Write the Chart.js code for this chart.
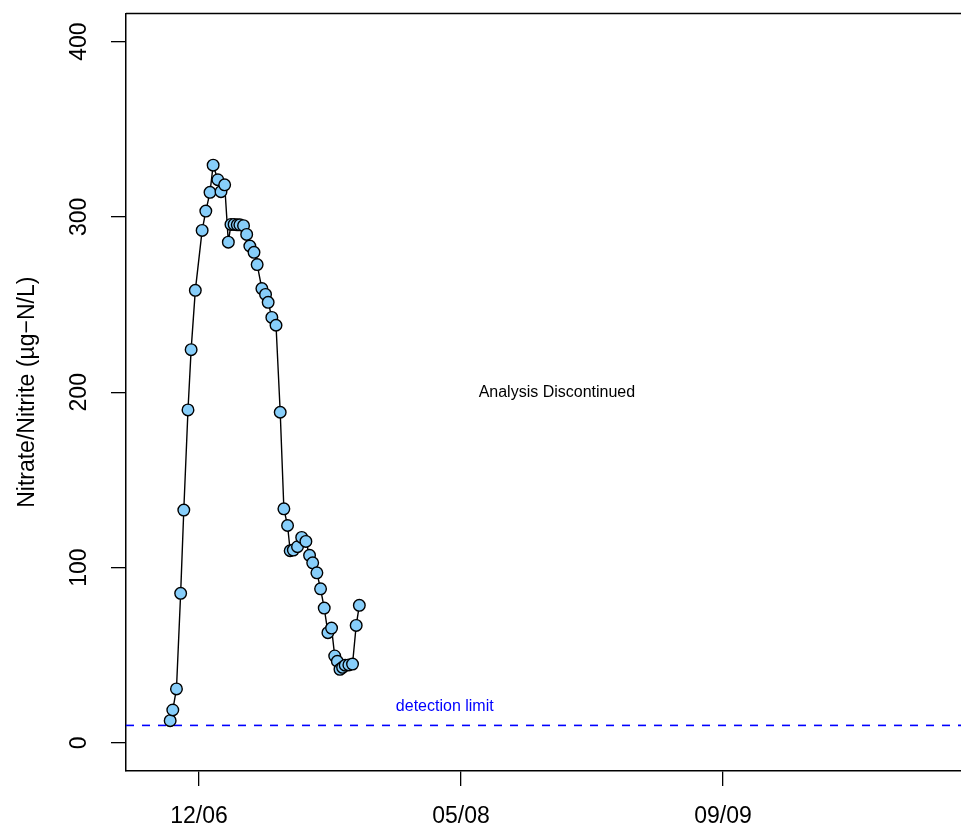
<!DOCTYPE html>
<html>
<head>
<meta charset="utf-8">
<script src="https://cdn.jsdelivr.net/npm/chart.js@4.4.1/dist/chart.umd.min.js"></script>
<style>
  html, body { margin: 0; padding: 0; background: #ffffff; }
  #wrap { width: 961px; height: 829px; }
</style>
</head>
<body>
<div id="wrap"><canvas id="c" width="961" height="829"></canvas></div>
<script>
// Sampling day, counted from the 12/06 tick (axis ticks every 500 days)
const sampleDay = [-55, -50, -43, -35, -29, -21, -15, -7, 6, 13, 21, 27, 36, 42, 49, 56,
  61, 67, 73, 78, 85, 91, 97, 105, 111, 120, 127, 132, 139, 147, 155, 162, 169, 174,
  180, 188, 196, 204, 211, 217, 225, 232, 239, 246, 253, 259, 264, 269, 274, 279,
  286, 293, 300, 306];

// Nitrate/Nitrite concentration, µg-N/L
const nitrate = [12.7, 18.8, 30.8, 85.3, 132.8, 189.9, 224.3, 258.1, 292.3, 303.3, 314,
  329.5, 321.2, 314.4, 318.3, 285.6, 295.7, 295.7, 295.5, 295.5, 295, 290, 283.4,
  279.8, 272.8, 259.1, 255.8, 251.3, 242.7, 238.2, 188.6, 133.5, 124, 109.6, 110,
  111.9, 117.2, 114.9, 107, 102.7, 97, 87.9, 76.9, 62.9, 65.5, 49.6, 46.6, 42, 43.1,
  44.3, 44.5, 45, 67, 78.5];

const xTickDays = [0, 500, 1000];
const xTickLabels = ['12/06', '05/08', '09/09'];
const yTickValues = [0, 100, 200, 300, 400];
const yTickLabels = ['0', '100', '200', '300', '400'];

const detectionLimit = 10;
const xRange = [-139.3, 1454.2];
const yRange = [-16, 416];

const noteText = 'Analysis Discontinued';
const notePos = [683, 200];
const limitText = 'detection limit';
const limitTextPos = [469, 21];

const FONT = '"Liberation Sans", Arial, Helvetica, sans-serif';

const overlay = {
  id: 'overlay',
  afterDraw(chart) {
    const ctx = chart.ctx;
    const area = chart.chartArea;
    const xs = chart.scales.x, ys = chart.scales.y;
    ctx.save();
    // top frame line (the frame runs past the right edge)
    ctx.strokeStyle = '#000';
    ctx.lineWidth = 1.5;
    ctx.beginPath();
    ctx.moveTo(area.left, area.top);
    ctx.lineTo(area.right + 2, area.top);
    ctx.stroke();

    // y tick labels, written parallel to the axis
    ctx.fillStyle = '#000';
    ctx.font = '23px ' + FONT;
    ctx.textAlign = 'center';
    ctx.textBaseline = 'middle';
    yTickValues.forEach((v, i) => {
      const py = ys.getPixelForValue(v);
      ctx.save();
      ctx.translate(area.left - 46, py);
      ctx.rotate(-Math.PI / 2);
      ctx.fillText(yTickLabels[i], 0, 0);
      ctx.restore();
    });

    // annotations
    ctx.font = '16px ' + FONT;
    ctx.fillStyle = '#000';
    ctx.fillText(noteText, xs.getPixelForValue(notePos[0]), ys.getPixelForValue(notePos[1]));
    ctx.fillStyle = '#0000ff';
    ctx.fillText(limitText, xs.getPixelForValue(limitTextPos[0]), ys.getPixelForValue(limitTextPos[1]));
    ctx.restore();
  }
};

new Chart(document.getElementById('c'), {
  type: 'line',
  data: {
    datasets: [
      {
        label: 'detection limit',
        data: [{ x: xRange[0], y: detectionLimit }, { x: xRange[1], y: detectionLimit }],
        borderColor: '#0000ff',
        borderWidth: 1.6,
        borderDash: [8, 8],
        pointRadius: 0,
        fill: false,
        order: 2
      },
      {
        label: 'Nitrate/Nitrite',
        data: sampleDay.map((d, i) => ({ x: d, y: nitrate[i] })),
        borderColor: '#000000',
        borderWidth: 1.4,
        pointRadius: 5.8,
        pointBackgroundColor: '#87CEFA',
        pointBorderColor: '#000000',
        pointBorderWidth: 1.4,
        tension: 0,
        fill: false,
        order: 1
      }
    ]
  },
  options: {
    responsive: false,
    animation: false,
    events: [],
    layout: { autoPadding: false, padding: { top: 13.5, left: 0, right: 0, bottom: 0 } },
    plugins: { legend: { display: false }, tooltip: { enabled: false } },
    scales: {
      x: {
        type: 'linear',
        min: xRange[0],
        max: xRange[1],
        afterBuildTicks: s => { s.ticks = xTickDays.map(v => ({ value: v })); },
        afterFit: s => { s.height = 58; },
        grid: { drawOnChartArea: false, drawTicks: true, tickLength: 15, color: '#000', lineWidth: 1.3 },
        border: { display: true, color: '#000', width: 1.5 },
        ticks: {
          autoSkip: false,
          maxRotation: 0,
          minRotation: 0,
          padding: 17,
          color: '#000',
          font: { family: FONT, size: 23 },
          callback: v => xTickLabels[xTickDays.indexOf(v)]
        }
      },
      y: {
        type: 'linear',
        min: yRange[0],
        max: yRange[1],
        afterBuildTicks: s => { s.ticks = yTickValues.map(v => ({ value: v })); },
        afterFit: s => { s.width = 126; },
        grid: { drawOnChartArea: false, drawTicks: true, tickLength: 15, color: '#000', lineWidth: 1.3 },
        border: { display: true, color: '#000', width: 1.5 },
        ticks: { display: false },
        title: {
          display: true,
          text: 'Nitrate/Nitrite (µg\u2212N/L)',
          color: '#000',
          font: { family: FONT, size: 23 },
          padding: { top: 14, bottom: 0 }
        }
      }
    }
  },
  plugins: [overlay]
});
</script>
</body>
</html>
